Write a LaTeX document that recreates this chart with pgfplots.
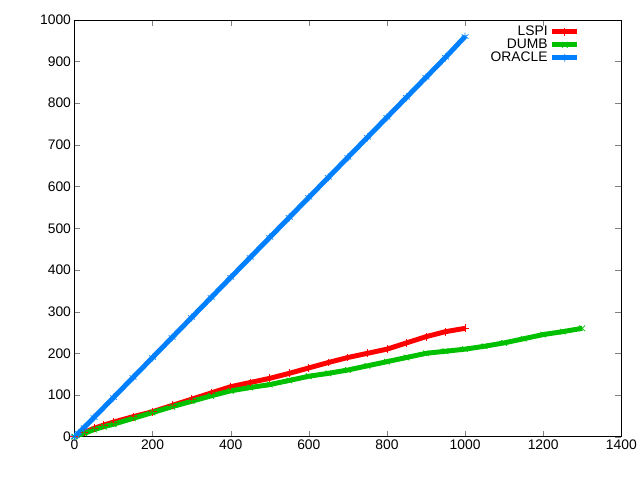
\documentclass[border=0pt]{standalone}
\usepackage{pgfplots}
\pgfplotsset{compat=1.18}
\usepackage{fontspec}
\setmainfont{Liberation Sans}
\definecolor{gred}{HTML}{FF0000}
\definecolor{ggreen}{HTML}{00C000}
\definecolor{gblue}{HTML}{0080FF}
\begin{document}
\begin{tikzpicture}
\begin{axis}[scale only axis, width=551bp, height=420bp,
 xmin=0,xmax=1400,ymin=0,ymax=1000,
 xtick={0,200,...,1400}, ytick={0,100,...,1000},
 tick align=inside, major tick length=6bp, minor tick num=0,
 /pgf/number format/assume math mode=true,
 /pgf/number format/set thousands separator={},
 tick label style={font=\fontsize{14}{16}\selectfont},
 legend style={draw=none, fill=none, at={(0.93,0.995)}, anchor=north east, font=\fontsize{14}{16}\selectfont, row sep=-2pt},
 legend cell align=right, legend plot pos=right,
 legend image code/.code={\draw[mark repeat=2,mark phase=2] plot coordinates {(0cm,0cm)(0.45cm,0cm)(0.9cm,0cm)};},
 axis line style={line width=0.6pt}]
\addplot[gred, line width=5pt, mark=+, mark size=4pt, mark options={line width=0.8pt}] coordinates {
(0,0)(25,10)(50,20)(75,28)(100,35)(150,48)(200,60)(250,75)(300,90)(350,105)(400,120)(450,130)(500,140)(550,152)(600,165)(650,178)(700,190)(750,200)(800,210)(850,225)(900,240)(950,252)(1000,260)};
\addlegendentry{LSPI}
\addplot[ggreen, line width=5pt, mark=x, mark size=4pt, mark options={line width=0.8pt}] coordinates {
(0,0)(25,8)(50,17)(75,24)(100,30)(150,44)(200,58)(250,72)(300,85)(350,98)(400,110)(450,118)(500,125)(550,135)(600,145)(650,152)(700,160)(750,170)(800,180)(850,190)(900,200)(950,205)(1000,210)(1050,217)(1100,225)(1150,235)(1200,245)(1250,252)(1300,260)};
\addlegendentry{DUMB}
\addplot[gblue, line width=5pt, mark=asterisk, mark size=4pt, mark options={line width=0.8pt}] coordinates {
(0,0)(10,8)(25,22)(50,46)(100,94)(150,142)(200,190)(250,238)(300,286)(350,334)(400,382)(450,430)(500,478)(550,526)(600,574)(650,622)(700,670)(750,718)(800,766)(850,814)(900,862)(950,910)(1000,960)};
\addlegendentry{ORACLE}
\end{axis}
\path (-75bp,-40bp) rectangle (565bp,440bp);
\end{tikzpicture}
\end{document}
